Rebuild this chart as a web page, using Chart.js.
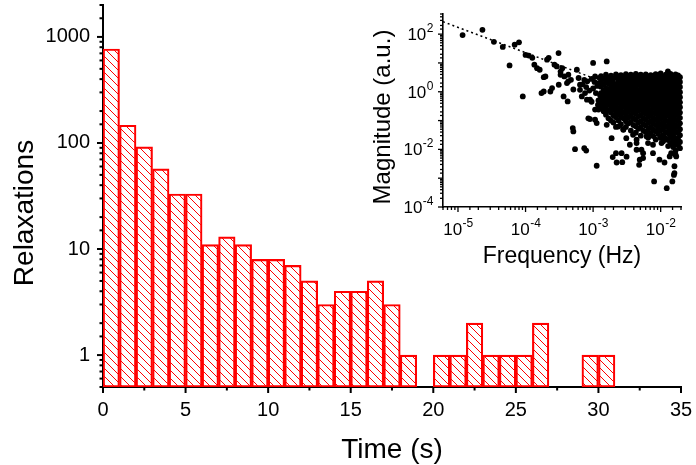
<!DOCTYPE html>
<html>
<head>
<meta charset="utf-8">
<script src="https://cdn.jsdelivr.net/npm/chart.js@4.4.0/dist/chart.umd.min.js"></script>
<style>
  html, body { margin: 0; padding: 0; background: #fff; }
  #wrap { position: relative; width: 696px; height: 465px; }
  #main { position: absolute; left: 0; top: 0; }
  #inset { position: absolute; left: 355px; top: 0; }
</style>
</head>
<body>
<div id="wrap">
  <canvas id="main" width="696" height="465"></canvas>
  <canvas id="inset" width="341" height="270"></canvas>
</div>
<script>
// histogram: bin start (s) and counts, empty bins are null
const binStart = [0, 1, 2, 3, 4, 5, 6, 7, 8, 9, 10, 11, 12, 13, 14, 15, 16, 17, 18, 19, 20, 21, 22, 23, 24, 25, 26, 27, 28, 29, 30];
const counts = [770, 147, 92, 57, 33, 33, 11, 13, 11, 8, 8, 7, 5, 3, 4, 4, 5, 3, 1, null, 1, 1, 2, 1, 1, 1, 2, null, null, 1, 1];

// inset spectrum, sparse points [frequency Hz, magnitude]
const sparsePts = [
  [1.17e-5, 93], [2.3e-5, 141], [3.4e-5, 54], [4.6e-5, 36], [5.8e-5, 8.2], [6.9e-5, 43], [8.0e-5, 52],
  [9.1e-5, 0.69], [1.0e-4, 19], [1.12e-4, 18], [1.26e-4, 15], [1.35e-4, 8.7], [1.48e-4, 6.6], [1.62e-4, 5.8],
  [1.72e-4, 0.9], [1.86e-4, 3.2], [1.86e-4, 1.02], [1.97e-4, 3.4], [2.08e-4, 13], [2.2e-4, 15], [2.33e-4, 1.02],
  [2.47e-4, 1.34], [2.68e-4, 8.7], [2.9e-4, 7.6], [3.08e-4, 22], [3.1e-4, 1.75], [3.3e-4, 5], [3.3e-4, 3.9],
  [3.5e-4, 6.6], [3.66e-4, 0.69], [3.75e-4, 3.4], [4.1e-4, 2], [4.2e-4, 0.46], [4.3e-4, 3.9], [4.3e-4, 2.3],
  [4.7e-4, 2.6], [5.0e-4, 0.055], [5.1e-4, 1.2], [5.1e-4, 0.042], [5.4e-4, 0.0102], [5.75e-4, 5.8], [6.1e-4, 3],
  [6.4e-4, 1.75], [6.4e-4, 1.17], [6.8e-4, 0.69], [7.0e-4, 1.8], [7.4e-4, 2.6], [7.4e-4, 0.011], [7.6e-4, 0.9],
  [7.9e-4, 0.0091], [7.9e-4, 1.45], [8.1e-4, 0.53], [8.2e-4, 2.3], [8.5e-4, 0.12], [8.8e-4, 1.1], [9e-4, 0.53],
  [9e-4, 0.113], [9.5e-4, 0.45], [9.5e-4, 2.8], [1.0e-3, 10], [1.0e-3, 1.3], [1.05e-3, 2.2], [1.07e-3, 3.4],
  [1.07e-3, 0.24], [1.07e-3, 0.107], [1.1e-3, 0.9], [1.13e-3, 0.082], [1.13e-3, 0.0027], [1.15e-3, 1.6],
  [1.18e-3, 0.35], [1.2e-3, 0.24], [1.2e-3, 0.5], [1.22e-3, 2.0], [1.25e-3, 3.0], [1.27e-3, 0.75],
  [1.59e-3, 11.3], [1.59e-3, 0.071], [1.88e-3, 0.0245], [1.95e-3, 0.0054], [2.18e-3, 0.0074], [2.23e-3, 0.0035],
  [2.36e-3, 0.062], [2.64e-3, 0.0074], [2.7e-3, 0.0036], [2.8e-3, 0.048], [3.1e-3, 0.0245], [3.13e-3, 0.0056],
  [3.5e-3, 0.0145], [3.9e-3, 0.032], [4.4e-3, 0.0166], [4.4e-3, 0.0216], [4.4e-3, 0.0097], [4.8e-3, 0.0029],
  [4.9e-3, 0.0044], [5.2e-3, 0.0097], [5.5e-3, 0.005], [5.5e-3, 0.0074], [6.2e-3, 0.028], [6.5e-3, 0.0166],
  [7.7e-3, 0.0145], [7.7e-3, 0.0074], [8.0e-3, 7.7e-4], [9.6e-3, 0.0044], [1.03e-2, 0.0166], [1.14e-2, 0.0035],
  [1.23e-2, 4.5e-4], [1.28e-2, 5.1], [1.36e-2, 0.0057], [1.43e-2, 0.0074], [1.49e-2, 7.7e-4], [1.52e-2, 3],
  [1.57e-2, 0.0013], [1.6e-2, 0.0026], [1.6e-2, 0.0015], [1.66e-2, 0.0065], [1.7e-2, 0.0166], [1.7e-2, 0.0057]
];

// dense part of the spectrum, one magnitude list per frequency column
const cloudFreq = [1.31e-3, 1.43e-3, 1.55e-3, 1.69e-3, 1.84e-3, 2.0e-3, 2.18e-3, 2.37e-3, 2.58e-3, 2.81e-3, 3.06e-3,
  3.33e-3, 3.62e-3, 3.94e-3, 4.29e-3, 4.67e-3, 5.08e-3, 5.53e-3, 6.02e-3, 6.55e-3, 7.13e-3, 7.76e-3, 8.44e-3,
  9.19e-3, 1.0e-2, 1.09e-2, 1.19e-2, 1.29e-2, 1.40e-2, 1.53e-2, 1.66e-2, 1.81e-2, 1.93e-2];
const cloudMag = [
  [3.5, 2.1, 1.5, 0.9, 0.6, 0.42, 0.28],
  [2.8, 1.8, 1.1, 0.75, 0.5, 0.33, 0.21],
  [3.9, 2.4, 1.3, 0.95, 0.65, 0.4, 0.26, 0.16],
  [3.0, 1.9, 1.2, 0.8, 0.55, 0.36, 0.22, 0.12],
  [3.6, 2.6, 1.6, 1.0, 0.7, 0.45, 0.3, 0.19, 0.1],
  [2.9, 2.0, 1.35, 0.85, 0.58, 0.38, 0.25, 0.15, 0.085],
  [4.0, 3.1, 1.7, 1.15, 0.78, 0.5, 0.33, 0.21, 0.13, 0.06],
  [3.4, 2.3, 1.45, 0.95, 0.64, 0.42, 0.27, 0.17, 0.1],
  [3.8, 2.7, 1.8, 1.2, 0.82, 0.55, 0.36, 0.23, 0.14, 0.075],
  [3.2, 2.2, 1.5, 1.0, 0.68, 0.45, 0.3, 0.19, 0.12, 0.05],
  [4.1, 2.9, 1.9, 1.3, 0.88, 0.6, 0.39, 0.26, 0.16, 0.095, 0.06],
  [3.5, 2.4, 1.6, 1.05, 0.72, 0.48, 0.32, 0.21, 0.13, 0.08],
  [3.9, 2.8, 1.85, 1.25, 0.85, 0.57, 0.37, 0.24, 0.15, 0.09, 0.045],
  [3.3, 2.3, 1.55, 1.02, 0.7, 0.46, 0.3, 0.2, 0.12, 0.07],
  [4.2, 3.0, 2.0, 1.35, 0.9, 0.6, 0.4, 0.27, 0.17, 0.105, 0.064, 0.038],
  [3.6, 2.5, 1.7, 1.1, 0.75, 0.5, 0.33, 0.22, 0.14, 0.085, 0.052],
  [3.9, 2.75, 1.8, 1.2, 0.8, 0.55, 0.36, 0.24, 0.155, 0.095, 0.058, 0.03],
  [3.2, 2.2, 1.45, 0.98, 0.66, 0.44, 0.29, 0.19, 0.12, 0.075, 0.045],
  [4.0, 2.9, 1.95, 1.3, 0.87, 0.58, 0.39, 0.26, 0.17, 0.11, 0.068, 0.04],
  [3.4, 2.4, 1.6, 1.07, 0.72, 0.48, 0.32, 0.21, 0.135, 0.085, 0.05, 0.026],
  [3.8, 2.65, 1.75, 1.18, 0.8, 0.53, 0.35, 0.23, 0.15, 0.095, 0.06, 0.036],
  [3.1, 2.15, 1.42, 0.95, 0.64, 0.43, 0.28, 0.185, 0.12, 0.078, 0.048, 0.029],
  [4.1, 2.95, 1.98, 1.32, 0.88, 0.59, 0.39, 0.26, 0.17, 0.11, 0.07, 0.043, 0.022],
  [3.5, 2.45, 1.63, 1.08, 0.73, 0.49, 0.33, 0.22, 0.14, 0.09, 0.056, 0.034],
  [4.3, 3.0, 2.05, 1.37, 0.92, 0.61, 0.41, 0.27, 0.18, 0.115, 0.073, 0.045, 0.025],
  [3.3, 2.3, 1.52, 1.01, 0.68, 0.45, 0.3, 0.2, 0.13, 0.083, 0.052, 0.031, 0.019],
  [3.9, 2.8, 1.86, 1.24, 0.83, 0.56, 0.37, 0.245, 0.16, 0.1, 0.064, 0.04, 0.024],
  [3.6, 2.55, 1.7, 1.13, 0.76, 0.51, 0.34, 0.225, 0.145, 0.092, 0.058, 0.036, 0.021, 0.013],
  [4.2, 3.05, 2.02, 1.35, 0.9, 0.6, 0.4, 0.265, 0.175, 0.112, 0.071, 0.044, 0.027, 0.016],
  [3.4, 2.35, 1.57, 1.05, 0.7, 0.47, 0.31, 0.205, 0.135, 0.086, 0.054, 0.033, 0.02, 0.012],
  [4.0, 2.85, 1.9, 1.27, 0.85, 0.57, 0.38, 0.25, 0.165, 0.105, 0.066, 0.041, 0.025, 0.015, 0.009],
  [3.7, 2.6, 1.74, 1.16, 0.78, 0.52, 0.35, 0.23, 0.15, 0.097, 0.061, 0.038, 0.023, 0.014],
  [3.2, 2.2, 1.46, 0.97, 0.65, 0.43, 0.29, 0.19, 0.125, 0.08, 0.05, 0.031, 0.018, 0.011]
];

// dotted power-law guide line
const fitLine = [[6e-6, 270], [1e-3, 3.0]];

const FONT = "'Liberation Sans', Arial, sans-serif";
Chart.defaults.font.family = FONT;
Chart.defaults.color = '#000';

const isPow10 = v => Math.abs(Math.log10(v) - Math.round(Math.log10(v))) < 1e-9;

// fixed axis box sizes so the plot area lands where the original is
const fitBox = (w, h) => s => {
  if (w !== undefined) s.width = w;
  if (h !== undefined) s.height = h;
  s.paddingLeft = s.paddingRight = s.paddingTop = s.paddingBottom = 0;
};

// outward major/minor tick marks
const axisTicks = {
  id: 'axisTicks',
  afterDraw(chart, args, opts) {
    const {ctx, chartArea: a} = chart;
    ctx.save();
    ctx.strokeStyle = '#000';
    ctx.lineWidth = opts.width;
    ['x', 'y'].forEach(id => {
      const s = chart.scales[id];
      s.ticks.forEach(t => {
        const major = s.type === 'logarithmic' ? isPow10(t.value) : t.value % 5 === 0;
        const len = major ? opts.major : opts.minor;
        const p = s.getPixelForValue(t.value);
        ctx.beginPath();
        if (id === 'x') {
          ctx.moveTo(p, a.bottom);
          ctx.lineTo(p, a.bottom + len);
        } else {
          ctx.moveTo(a.left, p);
          ctx.lineTo(a.left - len, p);
        }
        ctx.stroke();
      });
    });
    ctx.restore();
  }
};

function hatchPattern() {
  const s = 8;
  const c = document.createElement('canvas');
  c.width = s;
  c.height = s;
  const g = c.getContext('2d');
  g.strokeStyle = '#ff0000';
  g.lineWidth = 1;
  for (let k = -1; k <= 1; k++) {
    g.beginPath();
    g.moveTo(k * s, 0);
    g.lineTo(k * s + s, s);
    g.stroke();
  }
  return g.createPattern(c, 'repeat');
}

const mainTitles = {
  id: 'mainTitles',
  afterDraw(chart) {
    const ctx = chart.ctx;
    ctx.save();
    ctx.fillStyle = '#000';
    ctx.font = '28px ' + FONT;
    ctx.textAlign = 'center';
    ctx.textBaseline = 'alphabetic';
    ctx.fillText('Time (s)', 392, 458);
    ctx.translate(33, 213);
    ctx.rotate(-Math.PI / 2);
    ctx.fillText('Relaxations', 0, 0);
    ctx.restore();
  }
};

new Chart(document.getElementById('main'), {
  type: 'bar',
  data: {
    datasets: [{
      label: 'Relaxations',
      data: binStart.map((b, i) => ({x: b + 0.5, y: counts[i]})),
      backgroundColor: hatchPattern(),
      borderColor: '#ff0000',
      borderWidth: 1.5,
      borderSkipped: false,
      barPercentage: 1,
      categoryPercentage: 1
    }]
  },
  options: {
    responsive: false,
    animation: false,
    devicePixelRatio: 1,
    layout: {padding: {left: 0, top: 5, right: 15, bottom: 0}},
    plugins: {
      legend: {display: false},
      tooltip: {enabled: false},
      axisTicks: {major: 6, minor: 3.5, width: 2}
    },
    scales: {
      x: {
        type: 'linear',
        offset: false,
        min: 0,
        max: 35,
        grid: {display: false, drawTicks: false, offset: false},
        border: {display: true, color: '#000', width: 2},
        ticks: {
          stepSize: 2.5,
          autoSkip: false,
          maxRotation: 0,
          padding: 11,
          font: {size: 20},
          callback: v => (v % 5 === 0 ? String(v) : '')
        },
        afterFit: fitBox(undefined, 78)
      },
      y: {
        type: 'logarithmic',
        min: 0.5,
        max: 2000,
        grid: {display: false, drawTicks: false},
        border: {display: true, color: '#000', width: 2},
        ticks: {
          autoSkip: false,
          padding: 13,
          font: {size: 20},
          callback: v => (isPow10(v) ? String(v) : '')
        },
        afterFit: fitBox(103, undefined)
      }
    }
  },
  plugins: [axisTicks, mainTitles]
});

// inset labels: 10 with a raised exponent, and the two titles
const insetText = {
  id: 'insetText',
  afterDraw(chart) {
    const {ctx, chartArea: a} = chart;
    const xs = chart.scales.x, ys = chart.scales.y;
    const base = '17px ' + FONT, sup = '12px ' + FONT;
    ctx.save();
    ctx.fillStyle = '#000';
    ctx.textBaseline = 'alphabetic';
    ctx.textAlign = 'left';
    const pow = (e, x, y, mode) => {
      ctx.font = base;
      const wb = ctx.measureText('10').width;
      ctx.font = sup;
      const we = ctx.measureText(String(e)).width;
      const x0 = mode === 'right' ? x - wb - we : x - (wb + we) / 2;
      ctx.font = base;
      ctx.fillText('10', x0, y);
      ctx.font = sup;
      ctx.fillText(String(e), x0 + wb + 0.5, y - 8);
    };
    [-4, -2, 0, 2].forEach(e => pow(e, a.left - 10, ys.getPixelForValue(Math.pow(10, e)) + 6, 'right'));
    [-5, -4, -3, -2].forEach(e => pow(e, xs.getPixelForValue(Math.pow(10, e)), a.bottom + 28, 'center'));
    ctx.font = '23px ' + FONT;
    ctx.textAlign = 'center';
    ctx.fillText('Frequency (Hz)', (a.left + a.right) / 2, 263);
    ctx.font = '24px ' + FONT;
    ctx.translate(35, 117);
    ctx.rotate(-Math.PI / 2);
    ctx.fillText('Magnitude (a.u.)', 0, 0);
    ctx.restore();
  }
};

const spectrum = sparsePts.map(p => ({x: p[0], y: p[1]}));
cloudFreq.forEach((f, i) => cloudMag[i].forEach(m => spectrum.push({x: f, y: m})));

new Chart(document.getElementById('inset'), {
  type: 'scatter',
  data: {
    datasets: [{
      label: 'Magnitude',
      data: spectrum,
      pointRadius: 2.9,
      pointBackgroundColor: '#000',
      pointBorderWidth: 0,
      clip: false
    }, {
      label: 'fit',
      data: fitLine.map(p => ({x: p[0], y: p[1]})),
      showLine: true,
      borderColor: '#000',
      borderWidth: 1.5,
      borderDash: [2, 3],
      pointRadius: 0,
      fill: false
    }]
  },
  options: {
    responsive: false,
    animation: false,
    devicePixelRatio: 1,
    layout: {padding: {left: 0, top: 14, right: 15, bottom: 0}},
    plugins: {
      legend: {display: false},
      tooltip: {enabled: false},
      axisTicks: {major: 5, minor: 3, width: 1.3}
    },
    scales: {
      x: {
        type: 'logarithmic',
        min: 6e-6,
        max: 0.02,
        grid: {display: false, drawTicks: false},
        border: {display: true, color: '#000', width: 1.6},
        ticks: {display: false, autoSkip: false},
        afterFit: fitBox(undefined, 63)
      },
      y: {
        type: 'logarithmic',
        min: 1e-4,
        max: 500,
        grid: {display: false, drawTicks: false},
        border: {display: true, color: '#000', width: 1.6},
        ticks: {display: false, autoSkip: false},
        afterFit: fitBox(88, undefined)
      }
    }
  },
  plugins: [axisTicks, insetText]
});
</script>
</body>
</html>
